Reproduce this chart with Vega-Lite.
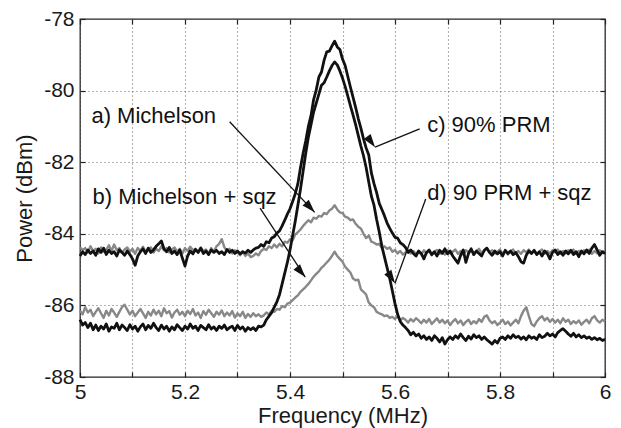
{
"$schema": "https://vega.github.io/schema/vega-lite/v6.json",
"width": 525, "height": 358,
"autosize": {"type": "none"},
"padding": {"left": 80, "top": 19, "right": 16, "bottom": 51},
"background": "white",
"config": {"view": {"stroke": "#222", "strokeWidth": 1.3}, "font": "Liberation Sans"},
"datasets": {
"spec": [
{"f":5.000,"a":-84.38,"b":-86.15,"c":-84.62,"d":-86.40},
{"f":5.005,"a":-84.45,"b":-86.25,"c":-84.50,"d":-86.55},
{"f":5.010,"a":-84.40,"b":-86.05,"c":-84.58,"d":-86.48},
{"f":5.015,"a":-84.52,"b":-86.20,"c":-84.45,"d":-86.62},
{"f":5.020,"a":-84.35,"b":-86.12,"c":-84.55,"d":-86.50},
{"f":5.025,"a":-84.48,"b":-86.30,"c":-84.48,"d":-86.68},
{"f":5.030,"a":-84.42,"b":-86.18,"c":-84.60,"d":-86.55},
{"f":5.035,"a":-84.55,"b":-86.08,"c":-84.42,"d":-86.70},
{"f":5.040,"a":-84.38,"b":-86.22,"c":-84.52,"d":-86.58},
{"f":5.045,"a":-84.50,"b":-86.35,"c":-84.40,"d":-86.66},
{"f":5.050,"a":-84.45,"b":-86.15,"c":-84.58,"d":-86.52},
{"f":5.055,"a":-84.32,"b":-86.28,"c":-84.46,"d":-86.72},
{"f":5.060,"a":-84.48,"b":-86.10,"c":-84.55,"d":-86.60},
{"f":5.065,"a":-84.30,"b":-86.20,"c":-84.50,"d":-86.64},
{"f":5.070,"a":-84.46,"b":-86.32,"c":-84.62,"d":-86.50},
{"f":5.075,"a":-84.40,"b":-86.18,"c":-84.45,"d":-86.68},
{"f":5.080,"a":-84.52,"b":-86.05,"c":-84.52,"d":-86.55},
{"f":5.085,"a":-84.44,"b":-85.98,"c":-84.60,"d":-86.62},
{"f":5.090,"a":-84.38,"b":-86.12,"c":-84.48,"d":-86.70},
{"f":5.095,"a":-84.50,"b":-86.25,"c":-84.58,"d":-86.54},
{"f":5.100,"a":-84.42,"b":-86.15,"c":-84.70,"d":-86.66},
{"f":5.105,"a":-84.56,"b":-86.30,"c":-84.88,"d":-86.58},
{"f":5.110,"a":-84.40,"b":-86.20,"c":-84.62,"d":-86.72},
{"f":5.115,"a":-84.48,"b":-86.10,"c":-84.50,"d":-86.60},
{"f":5.120,"a":-84.36,"b":-86.22,"c":-84.42,"d":-86.52},
{"f":5.125,"a":-84.50,"b":-86.35,"c":-84.55,"d":-86.68},
{"f":5.130,"a":-84.45,"b":-86.18,"c":-84.40,"d":-86.56},
{"f":5.135,"a":-84.38,"b":-86.28,"c":-84.52,"d":-86.64},
{"f":5.140,"a":-84.52,"b":-86.12,"c":-84.45,"d":-86.50},
{"f":5.145,"a":-84.42,"b":-86.25,"c":-84.35,"d":-86.62},
{"f":5.150,"a":-84.48,"b":-86.15,"c":-84.28,"d":-86.70},
{"f":5.155,"a":-84.35,"b":-86.30,"c":-84.20,"d":-86.55},
{"f":5.160,"a":-84.46,"b":-86.08,"c":-84.42,"d":-86.66},
{"f":5.165,"a":-84.40,"b":-86.22,"c":-84.50,"d":-86.58},
{"f":5.170,"a":-84.52,"b":-86.16,"c":-84.38,"d":-86.72},
{"f":5.175,"a":-84.44,"b":-86.34,"c":-84.55,"d":-86.60},
{"f":5.180,"a":-84.38,"b":-86.20,"c":-84.48,"d":-86.68},
{"f":5.185,"a":-84.50,"b":-86.12,"c":-84.58,"d":-86.54},
{"f":5.190,"a":-84.42,"b":-86.26,"c":-84.45,"d":-86.62},
{"f":5.195,"a":-84.55,"b":-86.18,"c":-84.68,"d":-86.70},
{"f":5.200,"a":-84.40,"b":-86.30,"c":-84.90,"d":-86.58},
{"f":5.205,"a":-84.48,"b":-86.15,"c":-84.62,"d":-86.66},
{"f":5.210,"a":-84.36,"b":-86.24,"c":-84.48,"d":-86.52},
{"f":5.215,"a":-84.46,"b":-86.10,"c":-84.56,"d":-86.64},
{"f":5.220,"a":-84.42,"b":-86.28,"c":-84.44,"d":-86.58},
{"f":5.225,"a":-84.52,"b":-86.20,"c":-84.52,"d":-86.70},
{"f":5.230,"a":-84.38,"b":-86.35,"c":-84.40,"d":-86.56},
{"f":5.235,"a":-84.48,"b":-86.16,"c":-84.55,"d":-86.62},
{"f":5.240,"a":-84.44,"b":-86.26,"c":-84.48,"d":-86.68},
{"f":5.245,"a":-84.55,"b":-86.12,"c":-84.58,"d":-86.54},
{"f":5.250,"a":-84.40,"b":-86.22,"c":-84.45,"d":-86.66},
{"f":5.255,"a":-84.50,"b":-86.32,"c":-84.52,"d":-86.60},
{"f":5.260,"a":-84.35,"b":-86.18,"c":-84.46,"d":-86.70},
{"f":5.265,"a":-84.28,"b":-86.26,"c":-84.55,"d":-86.58},
{"f":5.270,"a":-84.15,"b":-86.14,"c":-84.50,"d":-86.64},
{"f":5.275,"a":-84.38,"b":-86.30,"c":-84.58,"d":-86.55},
{"f":5.280,"a":-84.48,"b":-86.20,"c":-84.44,"d":-86.68},
{"f":5.285,"a":-84.42,"b":-86.28,"c":-84.52,"d":-86.62},
{"f":5.290,"a":-84.55,"b":-86.16,"c":-84.46,"d":-86.58},
{"f":5.295,"a":-84.46,"b":-86.34,"c":-84.55,"d":-86.70},
{"f":5.300,"a":-84.52,"b":-86.22,"c":-84.48,"d":-86.56},
{"f":5.305,"a":-84.60,"b":-86.30,"c":-84.56,"d":-86.66},
{"f":5.310,"a":-84.50,"b":-86.18,"c":-84.50,"d":-86.60},
{"f":5.315,"a":-84.62,"b":-86.35,"c":-84.54,"d":-86.72},
{"f":5.320,"a":-84.55,"b":-86.24,"c":-84.46,"d":-86.62},
{"f":5.325,"a":-84.65,"b":-86.32,"c":-84.52,"d":-86.68},
{"f":5.330,"a":-84.62,"b":-86.22,"c":-84.45,"d":-86.62},
{"f":5.335,"a":-84.55,"b":-86.30,"c":-84.40,"d":-86.70},
{"f":5.340,"a":-84.60,"b":-86.25,"c":-84.38,"d":-86.58},
{"f":5.345,"a":-84.48,"b":-86.32,"c":-84.30,"d":-86.60},
{"f":5.350,"a":-84.42,"b":-86.28,"c":-84.35,"d":-86.55},
{"f":5.355,"a":-84.45,"b":-86.20,"c":-84.22,"d":-86.40},
{"f":5.360,"a":-84.35,"b":-86.25,"c":-84.25,"d":-86.30},
{"f":5.365,"a":-84.40,"b":-86.15,"c":-84.12,"d":-86.20},
{"f":5.370,"a":-84.30,"b":-86.18,"c":-84.08,"d":-86.05},
{"f":5.375,"a":-84.38,"b":-86.10,"c":-83.98,"d":-85.90},
{"f":5.380,"a":-84.28,"b":-86.12,"c":-83.92,"d":-85.70},
{"f":5.385,"a":-84.35,"b":-86.02,"c":-83.78,"d":-85.40},
{"f":5.390,"a":-84.22,"b":-86.05,"c":-83.62,"d":-85.10},
{"f":5.395,"a":-84.25,"b":-85.95,"c":-83.45,"d":-84.80},
{"f":5.400,"a":-84.15,"b":-85.92,"c":-83.30,"d":-84.45},
{"f":5.405,"a":-84.18,"b":-85.85,"c":-83.10,"d":-84.05},
{"f":5.410,"a":-84.02,"b":-85.78,"c":-82.88,"d":-83.65},
{"f":5.415,"a":-83.95,"b":-85.72,"c":-82.60,"d":-83.20},
{"f":5.420,"a":-83.88,"b":-85.62,"c":-82.15,"d":-82.75},
{"f":5.425,"a":-83.78,"b":-85.55,"c":-81.75,"d":-82.25},
{"f":5.430,"a":-83.70,"b":-85.48,"c":-81.40,"d":-81.75},
{"f":5.435,"a":-83.62,"b":-85.40,"c":-81.00,"d":-81.30},
{"f":5.440,"a":-83.68,"b":-85.30,"c":-80.70,"d":-80.95},
{"f":5.445,"a":-83.55,"b":-85.20,"c":-80.25,"d":-80.60},
{"f":5.450,"a":-83.58,"b":-85.12,"c":-79.98,"d":-80.35},
{"f":5.455,"a":-83.50,"b":-85.05,"c":-79.62,"d":-80.10},
{"f":5.460,"a":-83.52,"b":-84.95,"c":-79.48,"d":-79.85},
{"f":5.465,"a":-83.42,"b":-84.88,"c":-79.15,"d":-79.78},
{"f":5.470,"a":-83.45,"b":-84.80,"c":-78.92,"d":-79.62},
{"f":5.475,"a":-83.35,"b":-84.72,"c":-78.90,"d":-79.45},
{"f":5.480,"a":-83.30,"b":-84.62,"c":-78.75,"d":-79.30},
{"f":5.485,"a":-83.20,"b":-84.50,"c":-78.62,"d":-79.20},
{"f":5.490,"a":-83.32,"b":-84.62,"c":-78.78,"d":-79.28},
{"f":5.495,"a":-83.40,"b":-84.70,"c":-78.85,"d":-79.45},
{"f":5.500,"a":-83.42,"b":-84.78,"c":-79.12,"d":-79.65},
{"f":5.505,"a":-83.52,"b":-84.92,"c":-79.30,"d":-79.88},
{"f":5.510,"a":-83.55,"b":-85.00,"c":-79.60,"d":-80.15},
{"f":5.515,"a":-83.62,"b":-85.08,"c":-79.90,"d":-80.42},
{"f":5.520,"a":-83.60,"b":-85.25,"c":-80.18,"d":-80.68},
{"f":5.525,"a":-83.72,"b":-85.30,"c":-80.47,"d":-80.95},
{"f":5.530,"a":-83.80,"b":-85.28,"c":-80.78,"d":-81.25},
{"f":5.535,"a":-83.85,"b":-85.55,"c":-81.05,"d":-81.55},
{"f":5.540,"a":-84.00,"b":-85.62,"c":-81.35,"d":-81.82},
{"f":5.545,"a":-84.12,"b":-85.70,"c":-81.60,"d":-82.15},
{"f":5.550,"a":-84.05,"b":-85.92,"c":-81.80,"d":-82.55},
{"f":5.555,"a":-84.22,"b":-86.00,"c":-82.30,"d":-82.95},
{"f":5.560,"a":-84.25,"b":-86.05,"c":-82.60,"d":-83.20},
{"f":5.565,"a":-84.30,"b":-86.18,"c":-82.85,"d":-83.60},
{"f":5.570,"a":-84.28,"b":-86.22,"c":-83.15,"d":-83.95},
{"f":5.575,"a":-84.40,"b":-86.25,"c":-83.32,"d":-84.35},
{"f":5.580,"a":-84.35,"b":-86.30,"c":-83.50,"d":-84.65},
{"f":5.585,"a":-84.42,"b":-86.28,"c":-83.70,"d":-84.95},
{"f":5.590,"a":-84.38,"b":-86.35,"c":-83.85,"d":-85.25},
{"f":5.595,"a":-84.50,"b":-86.32,"c":-83.98,"d":-85.60},
{"f":5.600,"a":-84.45,"b":-86.38,"c":-84.10,"d":-85.95},
{"f":5.605,"a":-84.55,"b":-86.30,"c":-84.12,"d":-86.25},
{"f":5.610,"a":-84.48,"b":-86.42,"c":-84.25,"d":-86.45},
{"f":5.615,"a":-84.58,"b":-86.35,"c":-84.30,"d":-86.55},
{"f":5.620,"a":-84.52,"b":-86.40,"c":-84.38,"d":-86.62},
{"f":5.625,"a":-84.45,"b":-86.48,"c":-84.52,"d":-86.70},
{"f":5.630,"a":-84.55,"b":-86.38,"c":-84.45,"d":-86.82},
{"f":5.635,"a":-84.48,"b":-86.45,"c":-84.55,"d":-86.75},
{"f":5.640,"a":-84.56,"b":-86.36,"c":-84.62,"d":-86.85},
{"f":5.645,"a":-84.50,"b":-86.42,"c":-84.48,"d":-86.80},
{"f":5.650,"a":-84.58,"b":-86.50,"c":-84.55,"d":-86.92},
{"f":5.655,"a":-84.46,"b":-86.40,"c":-84.70,"d":-86.85},
{"f":5.660,"a":-84.55,"b":-86.48,"c":-84.52,"d":-86.95},
{"f":5.665,"a":-84.48,"b":-86.38,"c":-84.45,"d":-86.88},
{"f":5.670,"a":-84.60,"b":-86.52,"c":-84.58,"d":-86.98},
{"f":5.675,"a":-84.50,"b":-86.44,"c":-84.50,"d":-86.85},
{"f":5.680,"a":-84.45,"b":-86.36,"c":-84.62,"d":-86.92},
{"f":5.685,"a":-84.56,"b":-86.48,"c":-84.46,"d":-87.02},
{"f":5.690,"a":-84.48,"b":-86.40,"c":-84.55,"d":-86.90},
{"f":5.695,"a":-84.58,"b":-86.50,"c":-84.42,"d":-87.08},
{"f":5.700,"a":-84.46,"b":-86.42,"c":-84.56,"d":-86.96},
{"f":5.705,"a":-84.55,"b":-86.55,"c":-84.48,"d":-86.88},
{"f":5.710,"a":-84.50,"b":-86.45,"c":-84.62,"d":-86.95},
{"f":5.715,"a":-84.44,"b":-86.38,"c":-84.72,"d":-86.85},
{"f":5.720,"a":-84.56,"b":-86.50,"c":-84.82,"d":-86.92},
{"f":5.725,"a":-84.48,"b":-86.42,"c":-84.60,"d":-86.80},
{"f":5.730,"a":-84.58,"b":-86.55,"c":-84.45,"d":-86.90},
{"f":5.735,"a":-84.46,"b":-86.46,"c":-84.80,"d":-86.98},
{"f":5.740,"a":-84.52,"b":-86.40,"c":-84.55,"d":-86.86},
{"f":5.745,"a":-84.44,"b":-86.52,"c":-84.42,"d":-86.94},
{"f":5.750,"a":-84.56,"b":-86.44,"c":-84.58,"d":-86.82},
{"f":5.755,"a":-84.50,"b":-86.50,"c":-84.48,"d":-86.90},
{"f":5.760,"a":-84.42,"b":-86.38,"c":-84.55,"d":-86.85},
{"f":5.765,"a":-84.55,"b":-86.46,"c":-84.62,"d":-86.95},
{"f":5.770,"a":-84.48,"b":-86.32,"c":-84.46,"d":-86.88},
{"f":5.775,"a":-84.40,"b":-86.28,"c":-84.40,"d":-86.96},
{"f":5.780,"a":-84.52,"b":-86.42,"c":-84.52,"d":-87.02},
{"f":5.785,"a":-84.46,"b":-86.50,"c":-84.60,"d":-87.08},
{"f":5.790,"a":-84.55,"b":-86.44,"c":-84.48,"d":-86.98},
{"f":5.795,"a":-84.50,"b":-86.55,"c":-84.56,"d":-87.05},
{"f":5.800,"a":-84.44,"b":-86.48,"c":-84.50,"d":-86.92},
{"f":5.805,"a":-84.56,"b":-86.40,"c":-84.62,"d":-86.88},
{"f":5.810,"a":-84.48,"b":-86.52,"c":-84.46,"d":-86.95},
{"f":5.815,"a":-84.58,"b":-86.45,"c":-84.55,"d":-86.85},
{"f":5.820,"a":-84.50,"b":-86.56,"c":-84.48,"d":-86.92},
{"f":5.825,"a":-84.44,"b":-86.48,"c":-84.58,"d":-86.82},
{"f":5.830,"a":-84.55,"b":-86.40,"c":-84.52,"d":-86.90},
{"f":5.835,"a":-84.48,"b":-86.50,"c":-84.64,"d":-86.86},
{"f":5.840,"a":-84.56,"b":-86.30,"c":-84.78,"d":-86.94},
{"f":5.845,"a":-84.46,"b":-86.15,"c":-84.82,"d":-86.88},
{"f":5.850,"a":-84.52,"b":-86.05,"c":-84.60,"d":-86.96},
{"f":5.855,"a":-84.44,"b":-86.30,"c":-84.48,"d":-86.85},
{"f":5.860,"a":-84.55,"b":-86.52,"c":-84.55,"d":-86.92},
{"f":5.865,"a":-84.48,"b":-86.58,"c":-84.46,"d":-86.88},
{"f":5.870,"a":-84.58,"b":-86.45,"c":-84.58,"d":-86.95},
{"f":5.875,"a":-84.50,"b":-86.36,"c":-84.50,"d":-86.82},
{"f":5.880,"a":-84.44,"b":-86.30,"c":-84.62,"d":-86.90},
{"f":5.885,"a":-84.56,"b":-86.42,"c":-84.48,"d":-86.86},
{"f":5.890,"a":-84.48,"b":-86.35,"c":-84.55,"d":-86.78},
{"f":5.895,"a":-84.55,"b":-86.46,"c":-84.70,"d":-86.85},
{"f":5.900,"a":-84.46,"b":-86.38,"c":-84.52,"d":-86.80},
{"f":5.905,"a":-84.52,"b":-86.48,"c":-84.45,"d":-86.88},
{"f":5.910,"a":-84.44,"b":-86.40,"c":-84.58,"d":-86.76},
{"f":5.915,"a":-84.56,"b":-86.50,"c":-84.50,"d":-86.70},
{"f":5.920,"a":-84.48,"b":-86.36,"c":-84.60,"d":-86.65},
{"f":5.925,"a":-84.55,"b":-86.46,"c":-84.48,"d":-86.72},
{"f":5.930,"a":-84.46,"b":-86.40,"c":-84.56,"d":-86.80},
{"f":5.935,"a":-84.52,"b":-86.52,"c":-84.46,"d":-86.86},
{"f":5.940,"a":-84.44,"b":-86.44,"c":-84.58,"d":-86.78},
{"f":5.945,"a":-84.56,"b":-86.50,"c":-84.50,"d":-86.88},
{"f":5.950,"a":-84.48,"b":-86.42,"c":-84.64,"d":-86.82},
{"f":5.955,"a":-84.55,"b":-86.54,"c":-84.48,"d":-86.90},
{"f":5.960,"a":-84.46,"b":-86.46,"c":-84.56,"d":-86.85},
{"f":5.965,"a":-84.52,"b":-86.40,"c":-84.45,"d":-86.92},
{"f":5.970,"a":-84.44,"b":-86.50,"c":-84.55,"d":-86.88},
{"f":5.975,"a":-84.56,"b":-86.36,"c":-84.40,"d":-86.95},
{"f":5.980,"a":-84.48,"b":-86.30,"c":-84.30,"d":-86.90},
{"f":5.985,"a":-84.55,"b":-86.42,"c":-84.45,"d":-86.96},
{"f":5.990,"a":-84.46,"b":-86.48,"c":-84.60,"d":-86.92},
{"f":5.995,"a":-84.52,"b":-86.40,"c":-84.50,"d":-86.98},
{"f":6.000,"a":-84.48,"b":-86.45,"c":-84.55,"d":-86.95}
],
"notes": [
{"x":5.0217,"y":-80.91,"label":"a) Michelson"},
{"x":5.024,"y":-83.17,"label":"b) Michelson + sqz"},
{"x":5.6612,"y":-81.15,"label":"c) 90% PRM"},
{"x":5.6612,"y":-83.06,"label":"d) 90 PRM + sqz"}
],
"arrows": [
{"id":"a","x0":5.285,"y0":-80.87,"x1":5.447,"y1":-83.40},
{"id":"b","x0":5.343,"y0":-83.28,"x1":5.429,"y1":-85.21},
{"id":"c","x0":5.647,"y0":-81.07,"x1":5.562,"y1":-81.58},
{"id":"d","x0":5.6585,"y0":-83.03,"x1":5.600,"y1":-85.38}
]
},
"resolve": {"axis": {"x": "independent", "y": "independent"}},
"layer": [
{
"data": {"name": "spec"},
"transform": [{"fold": ["a","b"], "as": ["series","power"]}],
"mark": {"type": "line", "color": "#888888", "strokeWidth": 2.4, "strokeJoin": "round"},
"encoding": {
"x": {"field": "f", "type": "quantitative", "scale": {"domain": [5,6], "nice": false, "zero": false},
"axis": {"orient": "bottom", "title": "Frequency (MHz)", "values": [5,5.1,5.2,5.3,5.4,5.5,5.6,5.7,5.8,5.9,6],
"labelExpr": "indexof(['5','5.2','5.4','5.6','5.8','6'], '' + datum.value) >= 0 ? '' + datum.value : ''",
"labelFont": "Liberation Sans", "labelFontSize": 21, "labelColor": "#1a1a1a", "labelPadding": 9, "labelFlush": false, "labelOverlap": false,
"tickSize": -5, "tickColor": "#222", "tickWidth": 1.2, "domain": false,
"grid": true, "gridColor": "#666", "gridDash": [1,3], "gridWidth": 1.1, "gridOpacity": 1,
"titleFont": "Liberation Sans", "titleFontSize": 22, "titleFontWeight": "normal", "titleColor": "#1a1a1a",
"titleX": 262.5, "titleY": 45, "titleAlign": "center", "titleBaseline": "alphabetic"}},
"y": {"field": "power", "type": "quantitative", "scale": {"domain": [-88,-78], "nice": false, "zero": false},
"axis": {"orient": "left", "title": "Power (dBm)", "values": [-88,-86,-84,-82,-80,-78],
"labelExpr": "'' + datum.value",
"labelFont": "Liberation Sans", "labelFontSize": 21, "labelColor": "#1a1a1a", "labelPadding": 11, "labelFlush": false, "labelOverlap": false,
"tickSize": -5, "tickColor": "#222", "tickWidth": 1.2, "domain": false,
"grid": true, "gridColor": "#666", "gridDash": [1,3], "gridWidth": 1.1, "gridOpacity": 1,
"titleFont": "Liberation Sans", "titleFontSize": 22, "titleFontWeight": "normal", "titleColor": "#1a1a1a",
"titleAngle": -90, "titleX": -49, "titleY": 179, "titleAlign": "center", "titleBaseline": "alphabetic"}},
"detail": {"field": "series", "type": "nominal"}
}
},
{
"data": {"name": "spec"},
"transform": [{"fold": ["c","d"], "as": ["series","power"]}],
"mark": {"type": "line", "color": "#111111", "strokeWidth": 2.8, "strokeJoin": "round"},
"encoding": {
"x": {"field": "f", "type": "quantitative", "scale": {"domain": [5,6], "nice": false, "zero": false}, "axis": null},
"y": {"field": "power", "type": "quantitative", "scale": {"domain": [-88,-78], "nice": false, "zero": false}, "axis": null},
"detail": {"field": "series", "type": "nominal"}
}
},
{
"data": {"name": "arrows"},
"mark": {"type": "rule", "color": "#111", "strokeWidth": 1.3},
"encoding": {
"x": {"field": "x0", "type": "quantitative", "scale": {"domain": [5,6], "nice": false, "zero": false}, "axis": null},
"y": {"field": "y0", "type": "quantitative", "scale": {"domain": [-88,-78], "nice": false, "zero": false}, "axis": null},
"x2": {"field": "x1"},
"y2": {"field": "y1"}
}
},
{
"data": {"name": "arrows"},
"mark": {"type": "point", "shape": "M0,0L-0.32,1L0.32,1Z", "filled": true, "color": "#111", "opacity": 1, "size": 700, "strokeWidth": 0},
"encoding": {
"x": {"field": "x1", "type": "quantitative", "scale": {"domain": [5,6], "nice": false, "zero": false}, "axis": null},
"y": {"field": "y1", "type": "quantitative", "scale": {"domain": [-88,-78], "nice": false, "zero": false}, "axis": null},
"angle": {"field": "id", "type": "nominal", "scale": {"domain": ["a","b","c","d"], "range": [137,147,248,200]}, "legend": null}
}
},
{
"data": {"name": "notes"},
"mark": {"type": "text", "align": "left", "baseline": "alphabetic", "font": "Liberation Sans", "fontSize": 22, "color": "#111"},
"encoding": {
"x": {"field": "x", "type": "quantitative", "scale": {"domain": [5,6], "nice": false, "zero": false},
"axis": {"orient": "top", "title": null, "values": [5,5.1,5.2,5.3,5.4,5.5,5.6,5.7,5.8,5.9,6], "labels": false, "grid": false, "domain": false, "tickSize": -5, "tickColor": "#222", "tickWidth": 1.2}},
"y": {"field": "y", "type": "quantitative", "scale": {"domain": [-88,-78], "nice": false, "zero": false},
"axis": {"orient": "right", "title": null, "values": [-88,-86,-84,-82,-80,-78], "labels": false, "grid": false, "domain": false, "tickSize": -5, "tickColor": "#222", "tickWidth": 1.2}},
"text": {"field": "label", "type": "nominal"}
}
}
]
}
